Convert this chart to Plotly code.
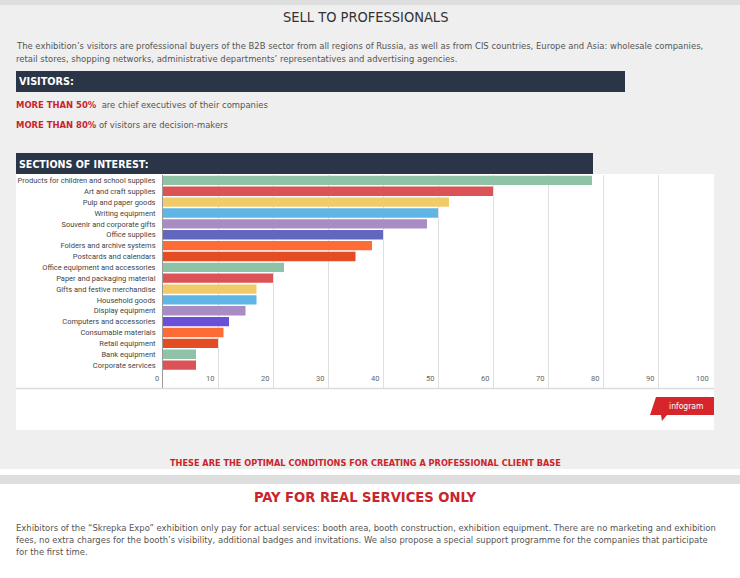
import plotly.graph_objects as go

# ---------------- data ----------------
categories = [
    "Products for children and school supplies",
    "Art and craft supplies",
    "Pulp and paper goods",
    "Writing equipment",
    "Souvenir and corporate gifts",
    "Office supplies",
    "Folders and archive systems",
    "Postcards and calendars",
    "Office equipment and accessories",
    "Paper and packaging material",
    "Gifts and festive merchandise",
    "Household goods",
    "Display equipment",
    "Computers and accessories",
    "Consumable materials",
    "Retail equipment",
    "Bank equipment",
    "Corporate services",
]
values = [78, 60, 52, 50, 48, 40, 38, 35, 22, 20, 17, 17, 15, 12, 11, 10, 6, 6]
bar_colors = [
    "#8ec3a7", "#dc5357", "#f1cb6a", "#5fb6e4", "#aa8cc5", "#6067bd", "#fd6b37", "#e44c24",
    "#8ec3a7", "#dc5357", "#f1cb6a", "#5fb6e4", "#aa8cc5", "#6b4fd8", "#fd6b37", "#e44c24",
    "#8ec3a7", "#dc5357",
]
x_ticks = [0, 10, 20, 30, 40, 50, 60, 70, 80, 90, 100]

# ---------------- layout geometry ----------------
W, H = 740, 578
PL, PR, PT, PB = 163, 713, 175, 388  # plot area in pixels


def px(x):
    return (x - PL) / (PR - PL)


def py(y):
    return (PB - y) / (PB - PT)


NARROW = "Liberation Sans Narrow, DejaVu Sans Condensed, Arial Narrow, sans-serif"
RED = "#c9252c"
NAVY = "#2b3548"
GRAY_TXT = "#555555"
BODY = 9.4

n = len(categories)
pitch_extra = 1.61

fig = go.Figure()
fig.add_trace(go.Bar(
    y=list(range(n)),
    x=values,
    orientation="h",
    marker=dict(color=bar_colors, line=dict(width=0)),
    width=0.86,
    hoverinfo="x+text",
    text=categories,
    textposition="none",
))

shapes = []
shapes.append(dict(type="rect", xref="paper", yref="paper", x0=px(0), x1=px(W), y0=py(0), y1=py(469),
                   fillcolor="#efefef", line=dict(width=0), layer="below"))
for (a, b) in [(0, 5), (475, 484)]:
    shapes.append(dict(type="rect", xref="paper", yref="paper", x0=px(0), x1=px(W), y0=py(a), y1=py(b),
                       fillcolor="#dedede", line=dict(width=0), layer="below"))
shapes.append(dict(type="rect", xref="paper", yref="paper", x0=px(16), x1=px(625), y0=py(71), y1=py(92),
                   fillcolor=NAVY, line=dict(width=0), layer="below"))
shapes.append(dict(type="rect", xref="paper", yref="paper", x0=px(16), x1=px(593), y0=py(153), y1=py(174),
                   fillcolor=NAVY, line=dict(width=0), layer="below"))
shapes.append(dict(type="rect", xref="paper", yref="paper", x0=px(16), x1=px(714), y0=py(174), y1=py(430),
                   fillcolor="#ffffff", line=dict(width=0), layer="below"))
shapes.append(dict(type="line", xref="paper", yref="paper", x0=px(16), x1=px(714), y0=py(388.5), y1=py(388.5),
                   line=dict(color="#dcdcdc", width=1.5)))
badge = (f"M {px(650)} {py(415)} L {px(656)} {py(397)} L {px(714)} {py(397)} L {px(714)} {py(415)} "
         f"L {px(667)} {py(415)} L {px(662)} {py(421)} L {px(661)} {py(415)} Z")
shapes.append(dict(type="path", xref="paper", yref="paper", path=badge, fillcolor="#d7262b",
                   line=dict(width=0)))

annotations = []


def txt(x, y, s, size, color, family=NARROW, anchor="left"):
    annotations.append(dict(x=px(x), y=py(y), xref="paper", yref="paper", text=s, showarrow=False,
                            xanchor=anchor, yanchor="middle", align=anchor,
                            font=dict(family=family, size=size, color=color)))


txt(365, 17, "SELL TO PROFESSIONALS", 14.5, "#333333", anchor="center")
txt(14, 46, "The exhibition’s visitors are professional buyers of the B2B sector from all regions of Russia, "
            "as well as from CIS countries, Europe and Asia: wholesale companies,", BODY, GRAY_TXT)
txt(14, 58, "retail stores, shopping networks, administrative departments’ representatives and advertising agencies.",
    BODY, GRAY_TXT)
txt(17, 82, "<b>VISITORS:</b>", 10.8, "#ffffff")
txt(14, 104, f"<b><span style='color:{RED}'>MORE THAN 50%</span></b>  are chief executives of their companies",
    BODY, GRAY_TXT)
txt(14, 124, f"<b><span style='color:{RED}'>MORE THAN 80%</span></b> of visitors are decision-makers",
    BODY, GRAY_TXT)
txt(17, 164, "<b>SECTIONS OF INTEREST:</b>", 10.6, "#ffffff")
txt(686, 406, "infogram", 8.5, "#ffffff", anchor="center")
txt(365, 463, "<b>THESE ARE THE OPTIMAL CONDITIONS FOR CREATING A PROFESSIONAL CLIENT BASE</b>", 9.1, RED,
    anchor="center")
txt(365, 496, "<b>PAY FOR REAL SERVICES ONLY</b>", 14.6, RED, anchor="center")
txt(14, 527, "Exhibitors of the “Skrepka Expo” exhibition only pay for actual services: booth area, booth construction, "
             "exhibition equipment. There are no marketing and exhibition", BODY, GRAY_TXT)
txt(14, 539, "fees, no extra charges for the booth’s visibility, additional badges and invitations. We also propose "
             "a special support programme for the companies that participate", BODY, GRAY_TXT)
txt(14, 551, "for the first time.", BODY, GRAY_TXT)

# x tick labels placed through the axes' own scales
for v in x_ticks:
    annotations.append(dict(x=v, y=n - 0.5 + 0.69, xref="x", yref="y", text=str(v), showarrow=False,
                            xanchor="right", yanchor="middle", xshift=-2,
                            font=dict(family="Roboto, sans-serif", size=7.5, color="#666666")))

fig.update_layout(
    width=W, height=H,
    margin=dict(l=PL, r=W - PR, t=PT, b=H - PB, pad=0),
    paper_bgcolor="#ffffff",
    plot_bgcolor="rgba(0,0,0,0)",
    showlegend=False,
    bargap=0.12,
    shapes=shapes,
    annotations=annotations,
    xaxis=dict(
        range=[0, 100], tickvals=x_ticks,
        showgrid=True, gridcolor="#e0e0e0", gridwidth=1, zeroline=False,
        showticklabels=False, ticks="", showline=False,
        fixedrange=True,
    ),
    yaxis=dict(
        range=[n - 0.5 + pitch_extra, -0.5],
        tickvals=list(range(n)), ticktext=categories,
        showgrid=False, zeroline=False, showline=True, linecolor="#9a9a9a", linewidth=1,
        ticks="", ticklabelstandoff=5,
        tickfont=dict(family="Roboto, sans-serif", size=7.5, color="#444444"),
        fixedrange=True,
    ),
)

fig.write_html("out.html", config={"displayModeBar": False},
               post_script="document.body.style.margin='0';document.body.style.overflow='hidden';")
